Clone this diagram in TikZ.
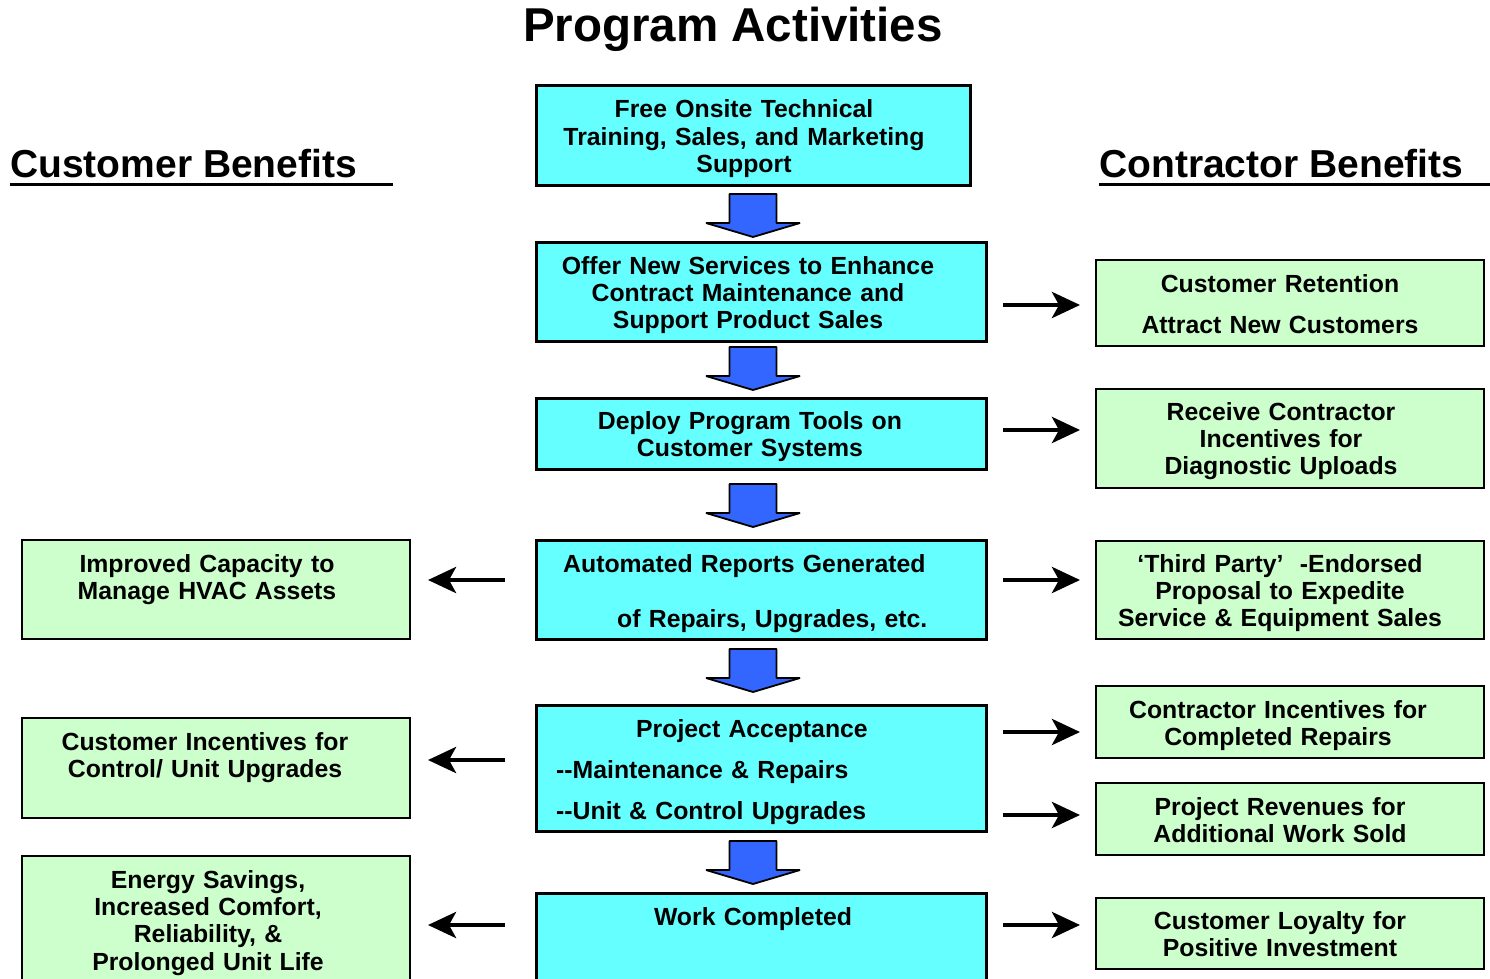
\documentclass[tikz,border=0pt]{standalone}
\usepackage{fontspec}
\setmainfont{Liberation Sans}
\usetikzlibrary{arrows.meta,calc}
\definecolor{boxcyan}{HTML}{66FFFF}
\definecolor{boxgreen}{HTML}{CCFFCC}
\definecolor{arrowblue}{HTML}{3366FF}
\begin{document}
\begin{tikzpicture}[x=1pt,y=-1pt,
  cbox/.style={draw=black, line width=3pt, fill=boxcyan, rectangle, inner sep=0pt, outer sep=0pt, anchor=north west},
  gbox/.style={draw=black, line width=2.6pt, fill=boxgreen, rectangle, inner sep=0pt, outer sep=0pt, anchor=north west},
  txt/.style={font=\bfseries\fontsize{24.8}{27.4}\selectfont, text width=#1, align=center, inner sep=0pt, anchor=base},
  txt/.default=370pt,
  ltxt/.style={txt=#1, align=left, anchor=base west},
  harr/.style={line width=4.5pt, -{Stealth[length=28pt,width=26pt,inset=7pt]}},
  blockarrow/.pic={\filldraw[fill=arrowblue, draw=black, line width=1.8pt, line join=bevel]
    (-23.5,0) -- (23.5,0) -- (23.5,29) -- (47,29) -- (0,43) -- (-47,29) -- (-23.5,29) -- cycle;}
]
\useasboundingbox (0,0) rectangle (1490,979);
\clip (0,0) rectangle (1490,979);

% titles
\node[font=\bfseries\fontsize{47.5}{56}\selectfont, inner sep=0pt, anchor=base] (title) at (733,42) {Program Activities};
\node[font=\bfseries\fontsize{39}{46}\selectfont, inner sep=0pt, anchor=base west] (cb) at (10,177.3) {Customer Benefits};
\node[font=\bfseries\fontsize{39}{46}\selectfont, inner sep=0pt, anchor=base west] (kb) at (1099,177.3) {Contractor Benefits};
\coordinate (cbend) at (393,184.3);
\coordinate (kbend) at (1490,184.3);
\draw[line width=3.3pt] (cb.base west |- cbend) -- (cbend);
\draw[line width=3.3pt] (kb.base west |- kbend) -- (kbend);

% center boxes
\node[cbox, minimum width=434pt, minimum height=99pt] (b1) at (536,86) {};
\node[cbox, minimum width=450pt, minimum height=99pt] (b2) at (536,242) {};
\node[cbox, minimum width=450pt, minimum height=71pt] (b3) at (536,398) {};
\node[cbox, minimum width=450pt, minimum height=99pt] (b4) at (536,540) {};
\node[cbox, minimum width=450pt, minimum height=126pt] (b5) at (536,705) {};
\node[cbox, minimum width=450pt, minimum height=110pt] (b6) at (536,893) {};

% right boxes
\node[gbox, minimum width=388pt, minimum height=86pt] (r1) at (1096,260) {};
\node[gbox, minimum width=388pt, minimum height=99pt] (r2) at (1096,389) {};
\node[gbox, minimum width=388pt, minimum height=98pt] (r3) at (1096,541) {};
\node[gbox, minimum width=388pt, minimum height=72pt] (r4) at (1096,686) {};
\node[gbox, minimum width=388pt, minimum height=72pt] (r5) at (1096,783) {};
\node[gbox, minimum width=388pt, minimum height=71pt] (r6) at (1096,898) {};

% left boxes
\node[gbox, minimum width=388pt, minimum height=99pt] (l1) at (22,540) {};
\node[gbox, minimum width=388pt, minimum height=100pt] (l2) at (22,718) {};
\node[gbox, minimum width=388pt, minimum height=140pt] (l3) at (22,856) {};

% center texts
\node[txt=430pt] (t1) at (744,117.7) {Free Onsite Technical\\Training, Sales, and Marketing\\Support};
\node[txt=430pt] (t2) at (748,274) {Offer New Services to Enhance\\Contract Maintenance and\\Support Product Sales};
\node[txt=430pt] (t3) at (750,429.5) {Deploy Program Tools on\\Customer Systems};
\node[ltxt=410pt] (t4) at (563,572) {Automated Reports Generated\\[27.6pt]\hspace*{54pt}of Repairs, Upgrades, etc.};
\node[ltxt=420pt] (t5) at (556,737) {\hspace*{80pt}Project Acceptance\\[13.6pt]{-}{-}Maintenance \& Repairs\\[13.6pt]{-}{-}Unit \& Control Upgrades};
\node[txt=430pt] (t6) at (753,925) {Work Completed};

% right texts
\node[txt] (u1) at (1280,292.3) {Customer Retention\\[13.6pt]Attract New Customers};
\node[txt] (u2) at (1281,420) {Receive Contractor\\Incentives for\\Diagnostic Uploads};
\node[txt] (u3) at (1280,572) {‘Third Party’\ \ -Endorsed\\Proposal to Expedite\\Service \& Equipment Sales};
\node[txt] (u4) at (1278,718) {Contractor Incentives for\\Completed Repairs};
\node[txt] (u5) at (1280,815) {Project Revenues for\\Additional Work Sold};
\node[txt] (u6) at (1280,929) {Customer Loyalty for\\Positive Investment};

% left texts
\node[txt] (v1) at (207,572) {Improved Capacity to\\Manage HVAC Assets};
\node[txt] (v2) at (205,750) {Customer Incentives for\\Control/ Unit Upgrades};
\node[txt] (v3) at (208,888) {Energy Savings,\\Increased Comfort,\\Reliability, \&\\Prolonged Unit Life};

% block arrows
\pic at (b1.south |- 0,194) {blockarrow};
\pic at (b1.south |- 0,347) {blockarrow};
\pic at (b1.south |- 0,484) {blockarrow};
\pic at (b1.south |- 0,649) {blockarrow};
\pic at (b1.south |- 0,841) {blockarrow};

% right arrows
\draw[harr] ($(b2.east |- 0,305)+(17,0)$) -- ($(r1.west |- 0,305)+(-16,0)$);
\draw[harr] ($(b3.east |- 0,430)+(17,0)$) -- ($(r2.west |- 0,430)+(-16,0)$);
\draw[harr] ($(b4.east |- 0,580)+(17,0)$) -- ($(r3.west |- 0,580)+(-16,0)$);
\draw[harr] ($(b5.east |- 0,732)+(17,0)$) -- ($(r4.west |- 0,732)+(-16,0)$);
\draw[harr] ($(b5.east |- 0,815)+(17,0)$) -- ($(r5.west |- 0,815)+(-16,0)$);
\draw[harr] ($(b6.east |- 0,925)+(17,0)$) -- ($(r6.west |- 0,925)+(-16,0)$);

% left arrows
\draw[harr] ($(b4.west |- 0,580)+(-31,0)$) -- ($(l1.east |- 0,580)+(18,0)$);
\draw[harr] ($(b5.west |- 0,760)+(-31,0)$) -- ($(l2.east |- 0,760)+(18,0)$);
\draw[harr] ($(b6.west |- 0,925)+(-31,0)$) -- ($(l3.east |- 0,925)+(18,0)$);
\end{tikzpicture}
\end{document}
